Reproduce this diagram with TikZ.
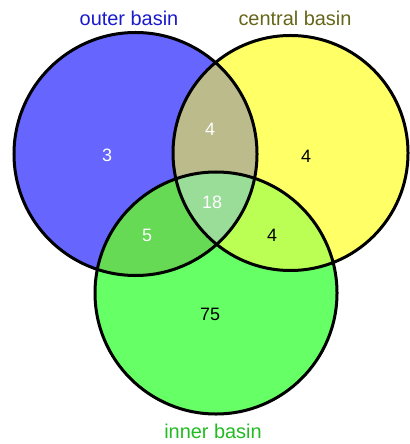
\documentclass[tikz,border=0pt]{standalone}
\usepackage{fontspec}
\setmainfont{Liberation Sans}
\begin{document}
\begin{tikzpicture}[x=1bp,y=-1bp,
  rim/.style={draw=black,line width=3bp,circle,inner sep=0pt},
  lbl/.style={font=\fontsize{20}{24}\selectfont},
  num/.style={font=\fontsize{18}{21}\selectfont}]
\definecolor{outerc}{HTML}{6666FF}
\definecolor{centralc}{HTML}{FFFF66}
\definecolor{innerc}{HTML}{66FF66}
\definecolor{ocmix}{HTML}{BBBB8C}
\definecolor{oimix}{HTML}{66D955}
\definecolor{cimix}{HTML}{BBFF55}
\definecolor{allmix}{HTML}{99DD99}
\definecolor{outert}{HTML}{1A1ACC}
\definecolor{centralt}{HTML}{66661A}
\definecolor{innert}{HTML}{22BB22}
\useasboundingbox (0,0) rectangle (409,444);
\fill[white] (0,0) rectangle (409,444);
% circle geometry
\def\Ox{135.5}\def\Oy{154}\def\Or{121.5}
\def\Cx{290.5}\def\Cy{153}\def\Cr{117.5}
\def\Ix{216}\def\Iy{293}\def\Ir{121}
% base fills
\fill[outerc] (\Ox,\Oy) circle (\Or);
\fill[centralc] (\Cx,\Cy) circle (\Cr);
\fill[innerc] (\Ix,\Iy) circle (\Ir);
% pairwise overlaps
\begin{scope}
  \clip (\Ox,\Oy) circle (\Or);
  \fill[ocmix] (\Cx,\Cy) circle (\Cr);
\end{scope}
\begin{scope}
  \clip (\Ox,\Oy) circle (\Or);
  \fill[oimix] (\Ix,\Iy) circle (\Ir);
\end{scope}
\begin{scope}
  \clip (\Cx,\Cy) circle (\Cr);
  \fill[cimix] (\Ix,\Iy) circle (\Ir);
\end{scope}
% triple overlap
\begin{scope}
  \clip (\Ox,\Oy) circle (\Or);
  \clip (\Cx,\Cy) circle (\Cr);
  \fill[allmix] (\Ix,\Iy) circle (\Ir);
\end{scope}
% outlines
\node[rim,minimum size=243bp] (outer) at (\Ox,\Oy) {};
\node[rim,minimum size=235bp] (central) at (\Cx,\Cy) {};
\node[rim,minimum size=242bp] (inner) at (\Ix,\Iy) {};
% set names
\node[lbl,text=outert] (touter) at (129,18) {outer basin};
\node[lbl,text=centralt] (tcentral) at (295,18) {central basin};
\node[lbl,text=innert] (tinner) at (213,431) {inner basin};
% region counts
\node[num,text=white] (n1) at (107,155) {3};
\node[num,text=white] (n2) at (210,129) {4};
\node[num,text=black] (n3) at (306,156) {4};
\node[num,text=white] (n4) at (212,202) {18};
\node[num,text=white] (n5) at (147,235) {5};
\node[num,text=black] (n6) at (272,235) {4};
\node[num,text=black] (n7) at (210,314) {75};
\end{tikzpicture}
\end{document}
